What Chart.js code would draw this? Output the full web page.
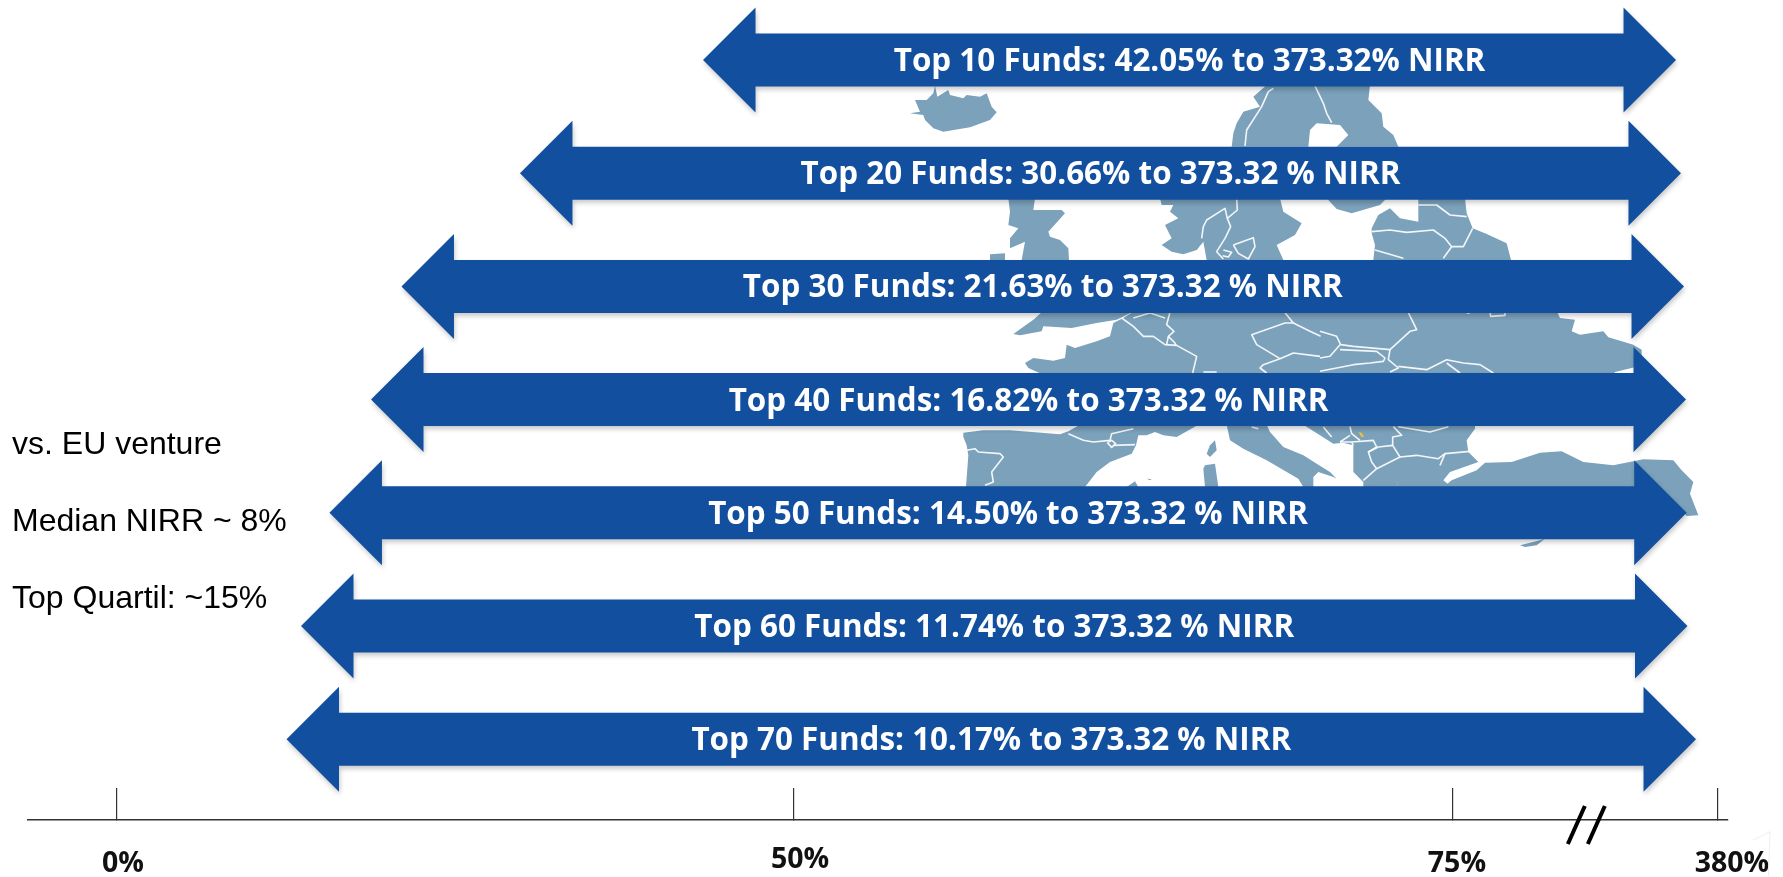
<!DOCTYPE html>
<html>
<head>
<meta charset="utf-8">
<style>html,body{margin:0;padding:0;background:#fff}canvas{display:block}</style>
<script src="https://cdn.jsdelivr.net/npm/chart.js@4/dist/chart.umd.js"></script>
</head>
<body>
<canvas id="c" width="1783" height="877"></canvas>
<script>
// ---- data ----
const ranks = [1, 2, 3, 4, 5, 6, 7];
const arrowLabels = [
  "Top 10 Funds: 42.05% to 373.32% NIRR",
  "Top 20 Funds: 30.66% to 373.32 % NIRR",
  "Top 30 Funds: 21.63% to 373.32 % NIRR",
  "Top 40 Funds: 16.82% to 373.32 % NIRR",
  "Top 50 Funds: 14.50% to 373.32 % NIRR",
  "Top 60 Funds: 11.74% to 373.32 % NIRR",
  "Top 70 Funds: 10.17% to 373.32 % NIRR"
];
// where each arrow tip sits when read against the axis
const arrowStart = [43.28, 29.76, 21.01, 18.76, 15.69, 13.59, 12.52];
const arrowEnd = [331.7, 337.4, 340.9, 343.2, 344.0, 344.9, 354.7];
const tickValues = [0, 50, 75, 380];
const axisBreaks = [217, 240];
const notes = ["vs. EU venture", "Median NIRR ~ 8%", "Top Quartil: ~15%"];

// ---- axis geometry / style ----
const axisMin = -6.57, axisMax = 391.5;
const knots = [[-6.57, 0], [0, 0.05235], [50, 0.4506], [75, 0.8382], [380, 0.99412], [391.5, 1]];
const labelNudge = {0: [6, 0], 50: [6, -4], 75: [4, 0], 380: [14, 0]};
const BLUE = "#12509f", MAP = "#7ba1bb";

// Background map, traced in patches: o = patch origin, coordinates in 1/3 px
const mapPatches = [
 {o:[900,80], fills:[
   [30,100,60,95,45,60,80,60,100,40,105,18,112,50,145,30,150,45,190,55,200,45,240,50,260,40,275,80,290,97,270,120,210,142,130,155,100,145,75,120,70,105],
   [1100,15,1060,50,1080,80,1030,95,1010,130,1000,160,995,200,1225,200,1230,150,1250,130,1320,135,1345,165,1310,200,1495,200,1480,165,1450,140,1445,100,1405,60,1410,15]
  ], lines:[
   [1120,25,1105,35,1085,80,1040,150,1035,198],
   [1245,18,1270,70,1280,100,1295,128]
  ]},
 {o:[990,195], fills:[
   [55,10,60,50,55,90,85,100,60,130,60,160,105,140,95,195,237,195,235,160,210,135,180,125,175,110,225,55,215,45,130,45,135,10],
   [0,178,45,175,45,195,0,195],
   [510,10,515,30,550,30,540,50,565,70,525,90,535,110,545,130,515,150,545,170,580,178,620,165,640,140,650,195,880,195,860,150,915,120,935,85,880,50,870,10],
   [1010,10,1040,42,1085,55,1170,30,1190,10],
   [1145,100,1165,60,1200,40,1230,70,1285,80,1285,10,1425,10,1430,55,1448,100,1490,117,1550,145,1563,195,1150,195,1155,150,1145,115]
  ], lines:[
   [740,12,742,45,712,70,722,95,705,130,680,170,700,192],
   [635,130,640,95,650,75,705,40,712,70],
   [730,150,790,128,795,155,775,192,745,175,730,150],
   [700,165,725,172,715,186,698,182],
   [1285,30,1340,30,1380,60,1430,65],
   [1145,110,1200,105,1250,112,1330,105,1365,130,1385,155,1420,155,1448,100],
   [1385,155,1360,190],
   [1155,165,1240,190]
  ]},
 {o:[1000,308], fills:[
   [130,8,100,35,40,78,60,82,125,70,130,55,215,60,290,45,350,35,405,8],
   [370,30,340,45,330,85,290,100,225,120,200,110,195,150,160,158,100,150,75,165,85,180,130,200,962,200,962,8,405,8]
  ], lines:[
   [365,30,400,55,430,85,460,85,495,110,530,112,590,145,578,195],
   [510,12,500,50,522,70,505,85,500,110],
   [505,85,525,105,528,112],
   [400,30,450,15,495,30],
   [855,14,880,45,855,45,755,80,770,110,840,152,790,170,780,180,800,195],
   [840,152,880,135,960,145],
   [880,45,930,70,962,85],
   [610,192,650,192]
  ]},
 {o:[1320,308], fills:[
   [0,8,710,8,720,30,765,35,755,70,780,80,850,70,865,88,940,110,965,125,965,172,935,180,885,192,880,200,0,200]
  ], lines:[
   [0,70,50,85,62,110,100,115,210,125,270,70,290,65,265,14],
   [60,110,30,145,0,150],
   [60,125,170,130,195,150,190,160,150,165,100,170,50,180,0,190],
   [210,125,205,155,235,180,210,192],
   [235,175,320,185,380,155,430,165,480,170,520,195],
   [380,165,420,195],
   [510,14,512,25,555,22,555,14],
   [440,15,450,15]
  ]},
 {o:[950,422], fills:[
   [40,32,100,25,180,25,330,37,355,28,390,8,745,8,680,45,640,40,615,30,590,40,565,40,558,70,545,95,480,120,440,150,405,195,48,195,55,100,50,70,40,45],
   [780,70,795,55,800,85,780,105,770,95],
   [765,130,795,125,805,195,765,195,760,140],
   [530,195,555,178,565,195],
   [590,170,605,172,600,175],
   [830,8,840,55,880,80,950,115,1045,170,1060,195,1090,195,1090,165,1105,150,1150,165,1160,170,1140,150,1100,125,1060,100,1000,75,960,30,950,8],
   [1060,8,1110,40,1150,65,1200,60,1200,8]
  ], lines:[
   [50,85,75,80,85,90,150,95,160,105,125,150,130,180,105,190],
   [355,35,400,55,430,60,480,55,485,35,550,20],
   [472,62,485,55,497,65,485,76,472,62],
   [490,70,555,68],
   [905,15,925,20],
   [1120,15,1145,45],
   [1170,60,1200,40]
  ]},
 {o:[1340,422], fills:[
   [-30,8,405,8,405,20,380,55,385,90,415,120,330,150,310,175,335,195,175,195,160,155,215,130,300,130,320,155,300,165,70,180,40,150,40,70,0,60],
   [70,180,160,150,175,195,70,195],
   [310,195,335,175,410,145,435,122,515,120,600,92,665,88,730,120,820,130,880,118,910,112,1000,115,1025,145,1060,180,1050,215,1075,280,1040,282,1000,240,880,195],
   [540,370,600,355,615,350,590,370,555,375]
  ], lines:[
   [30,14,35,35,60,55],
   [0,60,35,60,100,55,110,75,85,90,95,120,110,140],
   [85,90,115,75,158,70,180,105,110,140,70,175],
   [180,105,230,100,295,110,315,95,390,88],
   [315,95,300,130],
   [158,70,158,45,185,40,160,14],
   [175,14,270,30,325,14],
   [40,70,35,60]
  ]}
];

// ---- broken axis built on Chart.js' linear scale ----
class BrokenScale extends Chart.LinearScale {
  getPixelForValue(v) {
    let i = 0;
    while (i < knots.length - 2 && v > knots[i + 1][0]) i++;
    const [a, fa] = knots[i], [b, fb] = knots[i + 1];
    return this.left + (fa + (v - a) / (b - a) * (fb - fa)) * this.width;
  }
  getValueForPixel(p) {
    const f = (p - this.left) / this.width;
    let i = 0;
    while (i < knots.length - 2 && f > knots[i + 1][1]) i++;
    const [a, fa] = knots[i], [b, fb] = knots[i + 1];
    return a + (f - fa) / (fb - fa) * (b - a);
  }
  _computeLabelItems(area) {
    const items = super._computeLabelItems(area);
    items.forEach((it, i) => {
      const n = labelNudge[this.ticks[i].value] || [0, 0];
      it.options.translation = [it.options.translation[0] + n[0], it.options.translation[1] + n[1]];
    });
    return items;
  }
}
BrokenScale.id = "broken";
BrokenScale.defaults = Chart.LinearScale.defaults;
Chart.register(BrokenScale);

function tracePoly(ctx, o, pts, close) {
  ctx.beginPath();
  for (let i = 0; i < pts.length; i += 2) {
    const x = o[0] + pts[i] / 3, y = o[1] + pts[i + 1] / 3;
    i ? ctx.lineTo(x, y) : ctx.moveTo(x, y);
  }
  if (close) ctx.closePath();
}

const arrowPlugin = {
  id: "arrows",
  beforeDatasetsDraw(chart) {
    const ctx = chart.ctx;
    ctx.save();
    ctx.fillStyle = MAP;
    ctx.strokeStyle = "rgba(255,255,255,.9)";
    ctx.lineWidth = 1.6;
    ctx.lineJoin = "round";
    mapPatches.forEach(p => p.fills.forEach(f => { tracePoly(ctx, p.o, f, true); ctx.fill(); }));
    mapPatches.forEach(p => p.lines.forEach(l => { tracePoly(ctx, p.o, l, false); ctx.stroke(); }));
    // small yellow country mark
    ctx.fillStyle = "#f2c230";
    tracePoly(ctx, [1340, 422], [55, 30, 65, 32, 72, 45, 65, 45], true);
    ctx.fill();
    // faint smudge at the map's lower corner
    ctx.strokeStyle = "#eeeeee";
    ctx.lineWidth = 1;
    tracePoly(ctx, [1400, 680], [1060, 480, 1110, 455, 1105, 590], false);
    ctx.stroke();
    ctx.restore();

    // left notes
    ctx.save();
    ctx.fillStyle = "#000";
    ctx.font = "32px 'Liberation Sans'";
    ctx.textBaseline = "alphabetic";
    ctx.textAlign = "left";
    const ys = [454, 531, 608];
    notes.forEach((t, i) => ctx.fillText(t, 12, ys[i]));
    ctx.restore();
  },
  beforeDatasetDraw(chart, args) {
    const ctx = chart.ctx;
    const HEAD = 52.5, HALF = 52.5;
    args.meta.data.forEach((el, i) => {
      const {x: head, base, y, height} = el.getProps(["x", "base", "y", "height"], true);
      const h = height / 2;
      ctx.save();
      ctx.shadowColor = "rgba(0,0,0,.22)";
      ctx.shadowBlur = 5;
      ctx.shadowOffsetX = 1;
      ctx.shadowOffsetY = 3;
      ctx.fillStyle = BLUE;
      ctx.beginPath();
      ctx.moveTo(base, y);
      ctx.lineTo(base + HEAD, y - HALF);
      ctx.lineTo(base + HEAD, y - h);
      ctx.lineTo(head - HEAD, y - h);
      ctx.lineTo(head - HEAD, y - HALF);
      ctx.lineTo(head, y);
      ctx.lineTo(head - HEAD, y + HALF);
      ctx.lineTo(head - HEAD, y + h);
      ctx.lineTo(base + HEAD, y + h);
      ctx.lineTo(base + HEAD, y + HALF);
      ctx.closePath();
      ctx.fill();
      ctx.restore();
      ctx.save();
      ctx.fillStyle = "#fff";
      ctx.font = "700 31.4px 'Open Sans'";
      ctx.textAlign = "center";
      ctx.textBaseline = "middle";
      ctx.fillText(arrowLabels[i], (base + head) / 2, y + 2);
      ctx.restore();
    });
    return false;
  },
  afterDraw(chart) {
    const ctx = chart.ctx, xs = chart.scales.x, bottom = chart.chartArea.bottom;
    ctx.save();
    ctx.strokeStyle = "#000";
    ctx.lineWidth = 4;
    axisBreaks.forEach(v => {
      const px = xs.getPixelForValue(v);
      ctx.beginPath();
      ctx.moveTo(px - 8.5, bottom + 24);
      ctx.lineTo(px + 8.5, bottom - 14);
      ctx.stroke();
    });
    ctx.restore();
  }
};

new Chart(document.getElementById("c"), {
  type: "bar",
  data: {
    datasets: [{
      label: "NIRR range",
      data: ranks.map((r, i) => ({y: r, x: [arrowStart[i], arrowEnd[i]]})),
      backgroundColor: BLUE,
      barThickness: 53
    }]
  },
  options: {
    indexAxis: "y",
    responsive: false,
    animation: false,
    layout: {padding: {left: 28, right: 55, top: 3.4, bottom: 0}},
    plugins: {legend: {display: false}, tooltip: {enabled: false}, title: {display: false}},
    scales: {
      x: {
        type: "broken",
        min: axisMin,
        max: axisMax,
        position: "bottom",
        afterBuildTicks(s) { s.ticks = tickValues.map(v => ({value: v})); },
        afterFit(s) { s.height = 57; s.paddingLeft = 0; s.paddingRight = 0; },
        border: {display: true, color: "#333", width: 1.6},
        grid: {drawOnChartArea: false, drawTicks: true, tickLength: -32, color: "#333", lineWidth: 1.2},
        ticks: {
          autoSkip: false,
          maxRotation: 0,
          padding: 59,
          color: "#111",
          font: {family: "'Open Sans'", weight: "700", size: 28.5},
          callback: v => v + "%"
        }
      },
      y: {
        type: "linear",
        display: false,
        reverse: true,
        offset: false,
        grid: {offset: false},
        min: 0.5,
        max: 7.714
      }
    }
  },
  plugins: [arrowPlugin]
});
</script>
</body>
</html>
